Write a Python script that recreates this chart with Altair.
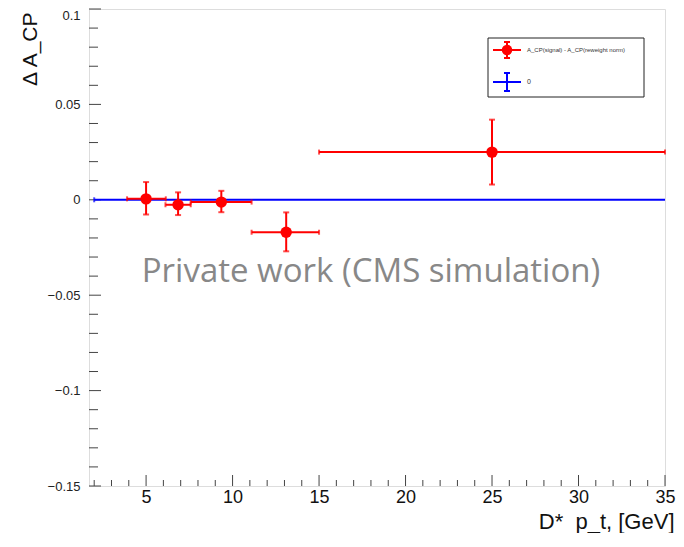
import altair as alt
import pandas as pd
import numpy as np

# data
pt = [5.0, 6.85, 9.35, 13.1, 25.0]
pt_lo = [3.9, 6.12, 7.58, 11.1, 15.0]
pt_hi = [6.14, 7.58, 11.1, 15.0, 35.0]
dacp = [0.0005, -0.0026, -0.0012, -0.0170, 0.0250]
dacp_lo = [-0.0077, -0.0080, -0.0065, -0.0270, 0.0080]
dacp_hi = [0.0093, 0.0039, 0.0047, -0.0066, 0.0420]

zero_x = [2.0, 35.0]
zero_y = [0.0, 0.0]

x_major = [5, 10, 15, 20, 25, 30, 35]
x_minor = [v for v in range(2, 35) if v % 5 != 0]
y_major = [-0.15, -0.1, -0.05, 0.0, 0.05, 0.1]
y_minor = [round(v, 2) for v in np.arange(-0.14, 0.1, 0.01) if abs(round(v * 100)) % 5 != 0]

W, H = 576, 477
RED = "#ff0000"
BLUE = "#0000ff"
FONT = "Liberation Sans"

df = pd.DataFrame({"x": pt, "xlo": pt_lo, "xhi": pt_hi, "y": dacp, "ylo": dacp_lo, "yhi": dacp_hi})
zdf = pd.DataFrame({"x": [zero_x[0]], "x2": [zero_x[1]], "y": [zero_y[0]]})

xs = alt.Scale(domain=[1.7, 35], nice=False, zero=False)
ys = alt.Scale(domain=[-0.15, 0.1], nice=False, zero=False)

xax = alt.Axis(values=x_major, ticks=False, tickSize=0, grid=False, domain=False,
               labelFontSize=18, labelFont=FONT, labelColor="#111", labelPadding=2,
               title="D*\u00a0\u00a0p_t, [GeV]", titleFont=FONT, titleFontSize=22, titleFontWeight="normal",
               titleColor="#111", titleAlign="right", titleBaseline="alphabetic",
               titleX=W + 9, titleY=42, labelFlush=False)
yax = alt.Axis(values=y_major, ticks=False, tickSize=0, grid=False, domain=False,
               labelFontSize=13, labelFont=FONT, labelColor="#222", labelPadding=9,
               labelBaseline={"condition": {"test": "datum.value > 0.09", "value": "top"}, "value": "middle"},
               title="Δ A_CP", titleFont=FONT, titleFontSize=21, titleFontWeight="normal",
               titleColor="#111", titleAngle=270, titleAlign="right", titleBaseline="middle",
               titleX=-59, titleY=3, labelFlush=False, format=".2~f")


def X(f):
    return alt.X(f, type="quantitative", scale=xs, axis=xax)


def Y(f):
    return alt.Y(f, type="quantitative", scale=ys, axis=yax)


base = alt.Chart(df)

# zero line
zline = alt.Chart(zdf).mark_rule(color=BLUE, strokeWidth=2).encode(x=X("x"), x2="x2", y=Y("y"))
zcap = alt.Chart(zdf).mark_tick(color=BLUE, orient="vertical", size=5, thickness=2).encode(x=X("x"), y=Y("y"))

xerr = base.mark_rule(color=RED, strokeWidth=2).encode(x=X("xlo"), x2="xhi", y=Y("y"))
yerr = base.mark_rule(color=RED, strokeWidth=2).encode(x=X("x"), y=Y("ylo"), y2="yhi")
capxlo = base.mark_tick(color=RED, orient="vertical", size=5, thickness=2).encode(x=X("xlo"), y=Y("y"))
capxhi = base.mark_tick(color=RED, orient="vertical", size=5, thickness=2).encode(x=X("xhi"), y=Y("y"))
capylo = base.mark_tick(color=RED, orient="horizontal", size=6, thickness=2).encode(x=X("x"), y=Y("ylo"))
capyhi = base.mark_tick(color=RED, orient="horizontal", size=6, thickness=2).encode(x=X("x"), y=Y("yhi"))
pts = base.mark_point(filled=True, shape="circle", size=130, color=RED, opacity=1).encode(x=X("x"), y=Y("y"))

# inward ROOT-style ticks
TICK = "#444"
xmaj = alt.Chart(pd.DataFrame({"v": x_major})).mark_rule(color=TICK, strokeWidth=1).encode(
    x=X("v"), y=alt.value(H), y2=alt.value(H - 11))
xmin = alt.Chart(pd.DataFrame({"v": x_minor})).mark_rule(color=TICK, strokeWidth=1).encode(
    x=X("v"), y=alt.value(H), y2=alt.value(H - 6))
ymaj = alt.Chart(pd.DataFrame({"v": y_major})).mark_rule(color=TICK, strokeWidth=1).encode(
    y=Y("v"), x=alt.value(0), x2=alt.value(12))
ymin = alt.Chart(pd.DataFrame({"v": y_minor})).mark_rule(color=TICK, strokeWidth=1).encode(
    y=Y("v"), x=alt.value(0), x2=alt.value(9))

# watermark
one = alt.Data(values=[{}])
wm = alt.Chart(one).mark_text(text="Private work (CMS simulation)", font="Open Sans", fontSize=33,
                               color="#888888", align="center", baseline="middle").encode(
    x=alt.value(282), y=alt.value(263))

# legend
LX0, LX1, LY0, LY1 = 399, 555, 29, 88
leg_box = alt.Chart(one).mark_rect(fill="white", stroke="#222", strokeWidth=1).encode(
    x=alt.value(LX0), x2=alt.value(LX1), y=alt.value(LY0), y2=alt.value(LY1))
e1y, e2y, mx = 41, 73, 418
leg1h = alt.Chart(one).mark_rule(color=RED, strokeWidth=2).encode(x=alt.value(mx - 14), x2=alt.value(mx + 14), y=alt.value(e1y))
leg1v = alt.Chart(one).mark_rule(color=RED, strokeWidth=2).encode(x=alt.value(mx), y=alt.value(e1y - 8), y2=alt.value(e1y + 8))
leg1c1 = alt.Chart(one).mark_rule(color=RED, strokeWidth=2).encode(x=alt.value(mx - 3), x2=alt.value(mx + 3), y=alt.value(e1y - 8))
leg1c2 = alt.Chart(one).mark_rule(color=RED, strokeWidth=2).encode(x=alt.value(mx - 3), x2=alt.value(mx + 3), y=alt.value(e1y + 8))
leg1p = alt.Chart(one).mark_point(filled=True, shape="circle", size=110, color=RED, opacity=1).encode(x=alt.value(mx), y=alt.value(e1y))
leg1t = alt.Chart(one).mark_text(text="A_CP(signal) - A_CP(reweight norm)", font=FONT, fontSize=6,
                                  color="#333", align="left", baseline="middle").encode(x=alt.value(mx + 20), y=alt.value(e1y))
leg2h = alt.Chart(one).mark_rule(color=BLUE, strokeWidth=2).encode(x=alt.value(mx - 14), x2=alt.value(mx + 14), y=alt.value(e2y))
leg2v = alt.Chart(one).mark_rule(color=BLUE, strokeWidth=2).encode(x=alt.value(mx), y=alt.value(e2y - 9), y2=alt.value(e2y + 9))
leg2c1 = alt.Chart(one).mark_rule(color=BLUE, strokeWidth=2).encode(x=alt.value(mx - 3), x2=alt.value(mx + 3), y=alt.value(e2y - 9))
leg2c2 = alt.Chart(one).mark_rule(color=BLUE, strokeWidth=2).encode(x=alt.value(mx - 3), x2=alt.value(mx + 3), y=alt.value(e2y + 9))
leg2t = alt.Chart(one).mark_text(text="0", font=FONT, fontSize=7, color="#333", align="left",
                                  baseline="middle").encode(x=alt.value(mx + 20), y=alt.value(e2y))

chart = alt.layer(
    xmaj, xmin, ymaj, ymin,
    zline, zcap,
    xerr, yerr, capxlo, capxhi, capylo, capyhi, pts,
    wm,
    leg_box, leg1h, leg1v, leg1c1, leg1c2, leg1p, leg1t,
    leg2h, leg2v, leg2c1, leg2c2, leg2t,
).properties(
    width=W, height=H,
    autosize=alt.AutoSizeParams(type="none"),
    padding={"left": 81, "top": 1, "right": 11, "bottom": 47},
).configure_view(stroke="#333", strokeWidth=1.5).configure(background="white")

chart.save("out.html", embed_options={"renderer": "svg", "actions": False})
